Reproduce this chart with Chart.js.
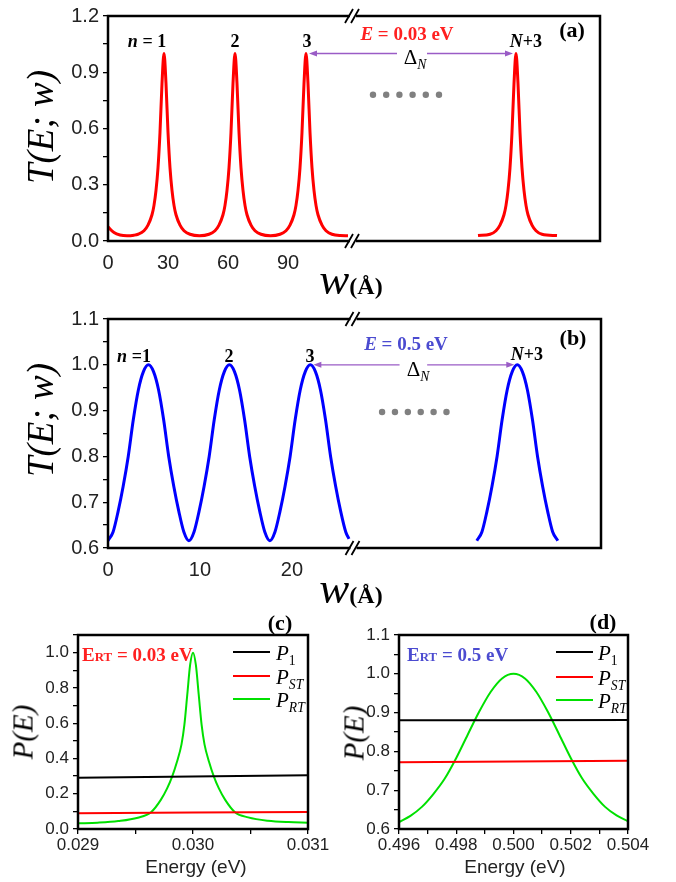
<!DOCTYPE html>
<html>
<head>
<meta charset="utf-8">
<script src="https://cdn.jsdelivr.net/npm/chart.js@4.4.1/dist/chart.umd.min.js"></script>
<style>
  body { margin: 0; background: #fff; }
  #fig { position: relative; width: 676px; height: 882px; overflow: hidden; font-family: "Liberation Serif", serif; color: #000; }
  canvas { position: absolute; }
  .c { position: absolute; transform: translate(-50%, -50%); white-space: nowrap; line-height: 1; }
  .l { position: absolute; transform: translate(0, -50%); white-space: nowrap; line-height: 1; }
  .rot { transform: translate(-50%, -50%) rotate(-90deg); }
  .sb { font-size: 65%; position: relative; top: 0.35em; }
  .sc { font-size: 68%; }
  .ln { position: absolute; height: 2px; margin-top: -1px; }
  .sans { font-family: "Liberation Sans", Arial, sans-serif; }
</style>
</head>
<body>
<div id="fig">
  <canvas id="ca" width="676" height="300" style="left:0;top:0"></canvas>
  <canvas id="cb" width="676" height="310" style="left:0;top:300px"></canvas>
  <canvas id="cc" width="338" height="282" style="left:0;top:600px"></canvas>
  <canvas id="cd" width="338" height="282" style="left:338px;top:600px"></canvas>

  <!-- panel (a) -->
  <div class="c rot" style="left:40px;top:127px;font-size:37px;font-style:italic">T(E; w)</div>
  <div class="c" style="left:351px;top:279px"><i style="font-size:45px">w</i><b style="font-size:24px">(Å)</b></div>
  <div class="c" style="left:147px;top:41px;font-size:18px;font-weight:bold"><i>n</i> = 1</div>
  <div class="c" style="left:235px;top:41px;font-size:18px;font-weight:bold">2</div>
  <div class="c" style="left:307px;top:41px;font-size:18px;font-weight:bold">3</div>
  <div class="c" style="left:407px;top:33px;font-size:19px;font-weight:bold;color:#ff2020"><i>E</i> = 0.03 eV</div>
  <div class="c" style="left:415px;top:57px;font-size:21px">Δ<span class="sb"><i>N</i></span></div>
  <div class="c" style="left:526px;top:41px;font-size:18px;font-weight:bold"><i>N</i>+3</div>
  <div class="c" style="left:572px;top:30px;font-size:22px;font-weight:bold">(a)</div>

  <!-- panel (b) -->
  <div class="c rot" style="left:40px;top:420px;font-size:37px;font-style:italic">T(E; w)</div>
  <div class="c" style="left:351px;top:588px"><i style="font-size:45px">w</i><b style="font-size:24px">(Å)</b></div>
  <div class="c" style="left:134px;top:356px;font-size:18px;font-weight:bold"><i>n</i> =1</div>
  <div class="c" style="left:229px;top:356px;font-size:18px;font-weight:bold">2</div>
  <div class="c" style="left:310px;top:356px;font-size:18px;font-weight:bold">3</div>
  <div class="c" style="left:406px;top:343px;font-size:19px;font-weight:bold;color:#4b4bd0"><i>E</i> = 0.5 eV</div>
  <div class="c" style="left:418px;top:369px;font-size:21px">Δ<span class="sb"><i>N</i></span></div>
  <div class="c" style="left:527px;top:354px;font-size:18px;font-weight:bold"><i>N</i>+3</div>
  <div class="c" style="left:573px;top:338px;font-size:22px;font-weight:bold">(b)</div>

  <!-- panel (c) -->
  <div class="c rot" style="left:23px;top:732px;font-size:29px;font-style:italic">P(E)</div>
  <div class="c sans" style="left:196px;top:866px;font-size:19px;color:#222">Energy (eV)</div>
  <div class="c" style="left:280px;top:623px;font-size:22px;font-weight:bold">(c)</div>
  <div class="l" style="left:82px;top:654px;font-size:19px;font-weight:bold;color:#ff2020">E<span class="sc">RT</span> = 0.03 eV</div>
  <div class="ln" style="left:233px;top:652px;width:37px;background:#000"></div>
  <div class="ln" style="left:233px;top:676px;width:37px;background:#ff0000"></div>
  <div class="ln" style="left:233px;top:699px;width:37px;background:#00e000"></div>
  <div class="l" style="left:276px;top:653px;font-size:21px"><i>P</i><span class="sb">1</span></div>
  <div class="l" style="left:276px;top:677px;font-size:21px"><i>P</i><span class="sb"><i>ST</i></span></div>
  <div class="l" style="left:276px;top:700px;font-size:21px"><i>P</i><span class="sb"><i>RT</i></span></div>

  <!-- panel (d) -->
  <div class="c rot" style="left:354px;top:733px;font-size:29px;font-style:italic">P(E)</div>
  <div class="c sans" style="left:515px;top:866px;font-size:19px;color:#222">Energy (eV)</div>
  <div class="c" style="left:603px;top:622px;font-size:22px;font-weight:bold">(d)</div>
  <div class="l" style="left:407px;top:654px;font-size:19px;font-weight:bold;color:#4b4bd0">E<span class="sc">RT</span> = 0.5 eV</div>
  <div class="ln" style="left:556px;top:652px;width:37px;background:#000"></div>
  <div class="ln" style="left:556px;top:677px;width:37px;background:#ff0000"></div>
  <div class="ln" style="left:556px;top:700px;width:37px;background:#00e000"></div>
  <div class="l" style="left:598px;top:653px;font-size:21px"><i>P</i><span class="sb">1</span></div>
  <div class="l" style="left:598px;top:678px;font-size:21px"><i>P</i><span class="sb"><i>ST</i></span></div>
  <div class="l" style="left:598px;top:701px;font-size:21px"><i>P</i><span class="sb"><i>RT</i></span></div>
</div>

<script>
// (a) E = 0.03 eV, T(E; w) vs w (Å), broken axis
const aTicks = [0, 30, 60, 90];
const aLeftW = [0, 3, 6, 9.5, 13, 15, 18, 20, 22, 23, 24, 25, 26, 27, 28,
  29, 30, 31, 32, 33, 34, 36, 38, 41, 45.75,
  50.5, 53.5, 55.5, 57.5, 58.5, 59.5, 60.5, 61.5, 62.5, 63.5,
  64.5, 65.5, 66.5, 67.5, 68.5, 69.5, 71.5, 73.5, 76.5, 81.25,
  86, 89, 91, 93, 94, 95, 96, 97, 98, 99,
  100, 101, 102, 103, 104, 105, 107, 109, 112, 116, 120];
const aLeftT = [0.075, 0.045, 0.032, 0.028, 0.031, 0.036, 0.055, 0.085, 0.14, 0.19, 0.27, 0.39, 0.58, 0.84, 1.0,
  0.84, 0.58, 0.39, 0.27, 0.19, 0.14, 0.085, 0.055, 0.036, 0.028,
  0.036, 0.055, 0.085, 0.14, 0.19, 0.27, 0.39, 0.58, 0.84, 1.0,
  0.84, 0.58, 0.39, 0.27, 0.19, 0.14, 0.085, 0.055, 0.036, 0.028,
  0.036, 0.055, 0.085, 0.14, 0.19, 0.27, 0.39, 0.58, 0.84, 1.0,
  0.84, 0.58, 0.39, 0.27, 0.19, 0.14, 0.085, 0.055, 0.036, 0.029, 0.028];
const aRightW = [185, 191, 194, 196, 198, 199, 200, 201, 202, 203, 204,
  205, 206, 207, 208, 209, 210, 212, 214, 217, 224.5];
const aRightT = [0.029, 0.036, 0.055, 0.085, 0.14, 0.19, 0.27, 0.39, 0.58, 0.84, 1.0,
  0.84, 0.58, 0.39, 0.27, 0.19, 0.14, 0.085, 0.055, 0.036, 0.029];

// (b) E = 0.5 eV
const bTicks = [0, 10, 20];
const bLeftW = [0, 0.55, 1.1, 1.65, 2.2, 2.75, 3.3, 3.85, 4.4, 4.95, 5.5, 6.05, 6.6, 7.15, 7.7, 8.25,
  8.8, 9.35, 9.9, 10.45, 11, 11.55, 12.1, 12.65, 13.2, 13.75, 14.3, 14.85, 15.4, 15.95, 16.5, 17.05,
  17.6, 18.15, 18.7, 19.25, 19.8, 20.35, 20.9, 21.45, 22, 22.55, 23.1, 23.65, 24.2, 24.75, 25.3, 25.85, 26.2];
const bLeftT = [0.616, 0.635, 0.68, 0.735, 0.80, 0.88, 0.945, 0.985, 1.0, 0.985, 0.945, 0.88, 0.80, 0.735, 0.68, 0.635,
  0.616, 0.635, 0.68, 0.735, 0.80, 0.88, 0.945, 0.985, 1.0, 0.985, 0.945, 0.88, 0.80, 0.735, 0.68, 0.635,
  0.616, 0.635, 0.68, 0.735, 0.80, 0.88, 0.945, 0.985, 1.0, 0.985, 0.945, 0.88, 0.80, 0.735, 0.68, 0.635, 0.62];
const bRightW = [40.1, 40.65, 41.2, 41.75, 42.3, 42.85, 43.4, 43.95, 44.5, 45.05, 45.6, 46.15, 46.7, 47.25, 47.8, 48.35, 48.9];
const bRightT = [0.616, 0.635, 0.68, 0.735, 0.80, 0.88, 0.945, 0.985, 1.0, 0.985, 0.945, 0.88, 0.80, 0.735, 0.68, 0.635, 0.616];

// (c) E_RT = 0.03 eV
const cEnergy = [0.029, 0.031];
const cP1 = [0.29, 0.305];
const cPST = [0.09, 0.097];
const cRtE = [0.029, 0.02917, 0.02935, 0.02952, 0.029635, 0.02972, 0.029775, 0.02982, 0.02986,
  0.0299, 0.029925, 0.02995, 0.029975, 0.030,
  0.030025, 0.03005, 0.030075, 0.0301, 0.03014, 0.03018, 0.030225, 0.03028, 0.030365,
  0.03048, 0.03065, 0.03083, 0.031];
const cRtP = [0.032, 0.036, 0.045, 0.064, 0.095, 0.165, 0.23, 0.30, 0.38,
  0.48, 0.59, 0.76, 0.93, 1.0,
  0.93, 0.76, 0.59, 0.48, 0.38, 0.30, 0.23, 0.165, 0.095,
  0.066, 0.047, 0.039, 0.036];

// (d) E_RT = 0.5 eV
const dEnergy = [0.496, 0.504];
const dP1 = [0.88, 0.881];
const dPST = [0.772, 0.776];
const dRtE = [0.496, 0.4964, 0.4968, 0.4972, 0.4976, 0.498, 0.4984, 0.4988, 0.4992, 0.4996, 0.5,
  0.5004, 0.5008, 0.5012, 0.5016, 0.502, 0.5024, 0.5028, 0.5032, 0.5036, 0.504];
const dRtP = [0.618, 0.634, 0.657, 0.69, 0.73, 0.783, 0.843, 0.902, 0.953, 0.988, 1.0,
  0.988, 0.953, 0.902, 0.843, 0.783, 0.73, 0.69, 0.657, 0.635, 0.62];

const pts = (xs, ys) => xs.map((x, i) => ({ x, y: ys[i] }));

function line(xs, ys, color, width) {
  return {
    data: pts(xs, ys),
    borderColor: color,
    borderWidth: width,
    pointRadius: 0,
    cubicInterpolationMode: 'monotone',
    fill: false,
  };
}

// box frame, with the axis break marks on top and bottom
const frame = {
  id: 'frame',
  afterDraw(chart, args, opts) {
    const { ctx, chartArea: { left, right, top, bottom } } = chart;
    ctx.save();
    ctx.strokeStyle = '#000';
    ctx.lineWidth = 2.5;
    ctx.strokeRect(left, top, right - left, bottom - top);
    if (opts.breakAt != null) {
      const bx = chart.scales.x.getPixelForValue(opts.breakAt);
      [top, bottom].forEach(y => {
        ctx.fillStyle = '#fff';
        ctx.fillRect(bx - 4, y - 3, 6, 6);
        ctx.lineWidth = 1.8;
        ctx.beginPath();
        ctx.moveTo(bx - 9, y + 7); ctx.lineTo(bx - 1, y - 7);
        ctx.moveTo(bx - 3, y + 7); ctx.lineTo(bx + 5, y - 7);
        ctx.stroke();
      });
    }
    ctx.restore();
  },
};

// spacing arrow and the row of dots
const marks = {
  id: 'marks',
  afterDatasetsDraw(chart, args, o) {
    if (!o || !o.arrow) return;
    const { ctx, scales: { x, y } } = chart;
    const ay = y.getPixelForValue(o.arrow.y);
    const x1 = x.getPixelForValue(o.arrow.from) + 3;
    const x2 = x.getPixelForValue(o.arrow.to) - 3;
    const g1 = x.getPixelForValue(o.arrow.gap[0]);
    const g2 = x.getPixelForValue(o.arrow.gap[1]);
    ctx.save();
    ctx.strokeStyle = '#9a5cc6';
    ctx.fillStyle = '#9a5cc6';
    ctx.lineWidth = 1.3;
    ctx.beginPath();
    ctx.moveTo(x1 + 6, ay); ctx.lineTo(g1, ay);
    ctx.moveTo(g2, ay); ctx.lineTo(x2 - 6, ay);
    ctx.stroke();
    ctx.beginPath();
    ctx.moveTo(x1, ay); ctx.lineTo(x1 + 8, ay - 3); ctx.lineTo(x1 + 8, ay + 3); ctx.closePath();
    ctx.moveTo(x2, ay); ctx.lineTo(x2 - 8, ay - 3); ctx.lineTo(x2 - 8, ay + 3); ctx.closePath();
    ctx.fill();
    ctx.fillStyle = '#808080';
    o.dots.w.forEach(w => {
      ctx.beginPath();
      ctx.arc(x.getPixelForValue(w), y.getPixelForValue(o.dots.y), 3.2, 0, 2 * Math.PI);
      ctx.fill();
    });
    ctx.restore();
  },
};

function panel(id, datasets, o) {
  const tickFont = { family: 'Liberation Sans', size: o.fs };
  return new Chart(document.getElementById(id), {
    type: 'line',
    data: { datasets },
    options: {
      responsive: false,
      animation: false,
      events: [],
      layout: { padding: o.pad },
      plugins: {
        legend: { display: false },
        tooltip: { enabled: false },
        frame: { breakAt: o.breakAt },
        marks: o.marks || {},
      },
      scales: {
        x: {
          type: 'linear',
          min: o.xMin,
          max: o.xMax,
          afterFit: s => { s.height = 30; },
          afterBuildTicks: o.xTicks ? s => { s.ticks = o.xTicks.map(v => ({ value: v })); } : undefined,
          border: { display: false },
          grid: { drawOnChartArea: false, tickLength: 5, color: '#000', tickColor: o.xTickColor || '#000', lineWidth: 1.3 },
          ticks: {
            stepSize: o.xStep,
            autoSkip: false,
            maxRotation: 0,
            padding: o.xPad,
            color: '#222',
            font: tickFont,
            callback: o.xLabel,
          },
        },
        y: {
          min: o.yMin,
          max: o.yMax,
          afterFit: s => { s.width = o.yW; },
          border: { display: false },
          grid: { drawOnChartArea: false, tickLength: 5, color: '#000', lineWidth: 1.3 },
          ticks: {
            stepSize: o.yStep,
            autoSkip: false,
            padding: 4,
            color: '#222',
            font: tickFont,
            callback: o.yLabel,
          },
        },
      },
    },
    plugins: [frame, marks],
  });
}

panel('ca', [
  line(aLeftW, aLeftT, '#ff0000', 3),
  line(aRightW, aRightT, '#ff0000', 3),
], {
  pad: { left: 0, top: 13, right: 76, bottom: 29 },
  yW: 108, fs: 20,
  xMin: 0, xMax: 246, xTicks: aTicks, xPad: 5, xTickColor: 'rgba(0,0,0,0)',
  xLabel: v => String(v),
  yMin: 0, yMax: 1.2, yStep: 0.15,
  yLabel: v => (Math.round(v / 0.15) % 2 === 0 ? v.toFixed(1) : ''),
  breakAt: 123,
  marks: {
    arrow: { from: 99, to: 204, y: 1.0, gap: [144.5, 159.5] },
    dots: { w: [132.5, 139.1, 145.7, 152.3, 158.9, 165.5], y: 0.78 },
  },
});

panel('cb', [
  line(bLeftW, bLeftT, '#0000ff', 3),
  line(bRightW, bRightT, '#0000ff', 3),
], {
  pad: { left: 0, top: 19, right: 75, bottom: 32 },
  yW: 108, fs: 20,
  xMin: 0, xMax: 53.6, xTicks: bTicks, xPad: 5, xTickColor: 'rgba(0,0,0,0)',
  xLabel: v => String(v),
  yMin: 0.6, yMax: 1.1, yStep: 0.05,
  yLabel: v => (Math.round(v * 20) % 2 === 0 ? v.toFixed(1) : ''),
  breakAt: 26.8,
  marks: {
    arrow: { from: 22, to: 44.5, y: 1.0, gap: [31.7, 34.7] },
    dots: { w: [29.8, 31.2, 32.6, 34.0, 35.4, 36.8], y: 0.897 },
  },
});

panel('cc', [
  line(cEnergy, cP1, '#000000', 2),
  line(cEnergy, cPST, '#ff0000', 2),
  line(cRtE, cRtP, '#00e000', 2),
], {
  pad: { left: 0, top: 35, right: 30, bottom: 23 },
  yW: 78, fs: 17,
  xMin: 0.029, xMax: 0.031, xStep: 0.0005, xPad: 1,
  xLabel: v => (Math.round(v * 2000) % 2 === 0 ? v.toFixed(3) : ''),
  yMin: 0, yMax: 1.1, yStep: 0.1,
  yLabel: v => (Math.round(v * 10) % 2 === 0 ? v.toFixed(1) : ''),
});

panel('cd', [
  line(dEnergy, dP1, '#000000', 2),
  line(dEnergy, dPST, '#ff0000', 2),
  line(dRtE, dRtP, '#00e000', 2),
], {
  pad: { left: 0, top: 35, right: 48, bottom: 23 },
  yW: 61, fs: 17,
  xMin: 0.496, xMax: 0.504, xStep: 0.001, xPad: 1,
  xLabel: v => (Math.round(v * 1000) % 2 === 0 ? v.toFixed(3) : ''),
  yMin: 0.6, yMax: 1.1, yStep: 0.05,
  yLabel: v => (Math.round(v * 20) % 2 === 0 ? v.toFixed(1) : ''),
});
</script>
</body>
</html>
